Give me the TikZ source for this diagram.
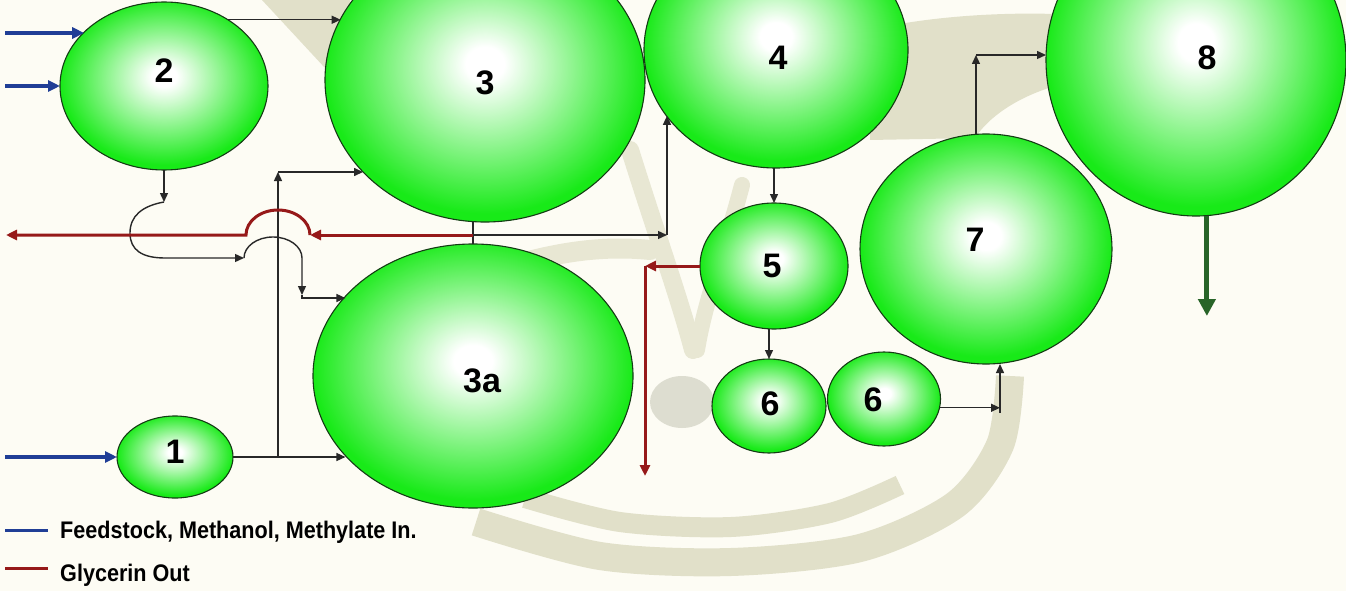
\documentclass[tikz,border=0pt]{standalone}
\usepackage{fontspec}
\usepackage{graphicx}
\setmainfont{Liberation Sans}
\usetikzlibrary{arrows.meta,shapes.geometric}
\definecolor{bg}{RGB}{253,252,244}
\definecolor{wm}{RGB}{225,224,201}
\definecolor{wmlight}{RGB}{232,231,211}
\definecolor{wmgray}{RGB}{221,221,208}
\definecolor{bgreen}{RGB}{24,234,24}
\definecolor{rimc}{RGB}{20,60,20}
\definecolor{feedblue}{RGB}{32,62,150}
\definecolor{glyred}{RGB}{150,25,25}
\definecolor{outgreen}{RGB}{40,100,40}
\definecolor{linec}{RGB}{40,40,40}
\pgfdeclareradialshading{ballshade}{\pgfpoint{0bp}{3bp}}{color(0bp)=(white); color(3bp)=(white); color(25bp)=(bgreen); color(50bp)=(bgreen)}
\tikzset{
  ball/.style={ellipse, draw=rimc, line width=1.1pt, shading=ballshade, inner sep=0pt, outer sep=0pt},
  num/.style={font=\fontsize{34}{34}\selectfont\bfseries, text=black, inner sep=0pt},
  conn/.style={draw=linec, line width=1.4pt},
  arr/.style={conn, -{Triangle[length=9pt,width=8pt]}},
  feed/.style={draw=feedblue, line width=3.5pt, -{Triangle[length=12pt,width=11pt]}},
  gly/.style={draw=glyred, line width=3pt},
  glyarr/.style={gly, -{Triangle[length=11pt,width=10pt]}},
  prod/.style={draw=outgreen, line width=5pt, -{Triangle[length=17pt,width=17pt]}},
  legtext/.style={font=\fontsize{24}{24}\selectfont\bfseries, anchor=base west, inner sep=0pt},
  wmband/.style={draw=wm, line width=24pt},
}
\begin{document}
\begin{tikzpicture}[x=1pt,y=-1pt]
\useasboundingbox (0,0) rectangle (1346,591);
\clip (0,0) rectangle (1346,591);
\fill[bg] (0,0) rectangle (1346,591);
% watermark
\fill[wm] (262,0) -- (350,0) -- (350,95) -- cycle;
\fill[wm] (870,30) .. controls (920,18) and (990,12) .. (1055,14) -- (1055,86) .. controls (1015,98) and (988,118) .. (975,138) -- (870,140) -- cycle;
\draw[wmband, draw=wmlight, line width=18pt, line cap=round] (630,150) .. controls (655,230) and (680,300) .. (693,350);
\draw[wmband, draw=wmlight, line width=16pt, line cap=round] (742,185) .. controls (725,250) and (705,300) .. (697,350);
\draw[wmband, draw=wmlight, line width=20pt, line cap=round] (525,262) .. controls (570,250) and (610,246) .. (650,250);
\fill[wmgray] (682,402) ellipse[x radius=32, y radius=26];
\draw[wmband, line width=28pt] plot[smooth] coordinates {(476,522) (600,556) (731,562) (860,548) (955,505) (1000,445) (1010,376)};
\draw[wmband, line width=20pt] plot[smooth] coordinates {(525,498) (620,522) (731,527) (830,513) (900,485)};
% vessels
\node[ball, minimum width=116pt, minimum height=82pt] (e1) at (175,457) {};
\node[ball, minimum width=208pt, minimum height=168pt] (e2) at (164,86) {};
\node[ball, minimum width=320pt, minimum height=284pt] (e3) at (485,80) {};
\node[ball, minimum width=320pt, minimum height=264pt] (e3a) at (473,376) {};
\node[ball, minimum width=264pt, minimum height=236pt] (e4) at (776,50) {};
\node[ball, minimum width=148pt, minimum height=126pt] (e5) at (774,266) {};
\node[ball, minimum width=114pt, minimum height=94pt] (e6a) at (769,406) {};
\node[ball, minimum width=113pt, minimum height=94pt] (e6b) at (884,399) {};
\node[ball, minimum width=252pt, minimum height=230pt] (e7) at (986,249) {};
\node[ball, minimum width=300pt, minimum height=312pt] (e8) at (1196,60) {};
% labels
\node[num] (l1) at (175,452) {1};
\node[num] (l2) at (164,71) {2};
\node[num] (l3) at (485,83) {3};
\node[num] (l3a) at (482,381) {3a};
\node[num] (l4) at (778,58) {4};
\node[num] (l5) at (772,266) {5};
\node[num] (l6a) at (770,404) {6};
\node[num] (l6b) at (873,400) {6};
\node[num] (l7) at (975,240) {7};
\node[num] (l8) at (1207,58) {8};
% coordinates
\coordinate (b1) at (5,33);
\coordinate (b2) at (5,86);
\coordinate (b3) at (5,457);
\coordinate (d2) at (164,202);
\coordinate (h1) at (244,258);
\coordinate (d3) at (302,295);
\coordinate (k3) at (302,298);
\coordinate (j1) at (278,457);
\coordinate (j2) at (278,172);
\coordinate (jt) at (473,235);
\coordinate (c4) at (667,235);
\coordinate (r1) at (310,235);
\coordinate (r2) at (6,235);
\coordinate (c5) at (645,266);
\coordinate (r3) at (645,476);
\coordinate (c7) at (1000,408);
\coordinate (c7b) at (1000,413);
\coordinate (y8) at (0,55);
\coordinate (c8) at (e7.95 |- y8);
\coordinate (g8) at (1207,316);
% feed arrows
\draw[feed] (b1) -- (b1 -| e2.146.7);
\draw[feed] (b2) -- (b2 -| e2.west);
\draw[feed] (b3) -- (b3 -| e1.west);
% black process lines
\draw[arr] (e2.46) -- (e2.46 -| e3.157.5);
\draw[arr] (e2.south) -- (d2);
\draw[arr] (d2) .. controls (142,206) and (130,216) .. (130,233) .. controls (130,250) and (142,258) .. (165,258) -- (h1);
\draw[arr] (h1) arc[start angle=180,end angle=360,x radius=29,y radius=21] -- (d3);
\draw[arr] (d3) -- (k3) -- (k3 -| e3a.148.8);
\draw[arr] (e1.east) -- (e1.east -| e3a.212.7);
\draw[arr] (j1) -- (j2);
\draw[arr] (j2) -- (j2 -| e3.217);
\draw[conn] (e3a.north) -- (e3a.north |- e3.south);
\draw[arr] (jt) -- (c4);
\draw[arr] (c4) -- (c4 |- e4.211.4);
\draw[arr] (e5.north |- e4.south) -- (e5.north);
\draw[arr] (e5.south -| e6a.north) -- (e6a.north);
\draw[arr] (e6b.-9) -- (e6b.-9 -| c7);
\draw[arr] (c7b) -- (c7b |- e7.south);
\draw[arr] (e7.95) -- (c8);
\draw[arr] (c8) -- (c8 -| e8.west);
% glycerin
\draw[glyarr] (jt) -- (r1);
\draw[glyarr] (r1) arc[start angle=0,end angle=-180,x radius=32,y radius=25] -- (r2);
\draw[glyarr] (e5.west) -- (c5);
\draw[glyarr] (c5) -- (r3);
% product
\draw[prod] (e8.-86) -- (e8.-86 |- g8);
% legend
\coordinate (lb1) at (5,530);
\coordinate (lb2) at (48,530);
\coordinate (lr1) at (5,568);
\coordinate (lr2) at (48,568);
\draw[draw=feedblue, line width=3pt] (lb1) -- (lb2);
\draw[draw=glyred, line width=3pt] (lr1) -- (lr2);
\node[legtext] (t1) at (60,538) {\scalebox{0.9}[1]{Feedstock, Methanol, Methylate In.}};
\node[legtext] (t2) at (60,581) {\scalebox{0.9}[1]{Glycerin Out}};
\end{tikzpicture}
\end{document}
